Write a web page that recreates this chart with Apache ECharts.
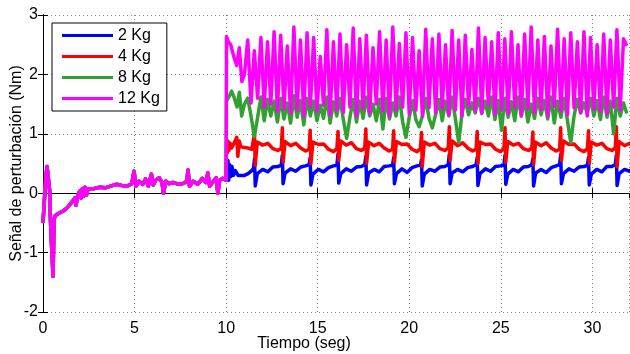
<!DOCTYPE html>
<html><head><meta charset="utf-8">
<script src="https://cdn.jsdelivr.net/npm/echarts@6/dist/echarts.min.js"></script>
<style>html,body{margin:0;padding:0;background:#fff}#c{width:630px;height:354px}</style>
</head><body><div id="c"></div>
<script>
const seriesNames = ['2 Kg', '4 Kg', '8 Kg', '12 Kg'];
const seriesColors = ['#0000ff', '#ff0000', '#33a033', '#ff00ff'];
const xLabelName = 'Tiempo (seg)';
const yLabelName = 'Señal de perturbación (Nm)';

// common part before t = 10 s
const preT = [0, 0.08, 0.15, 0.22, 0.3, 0.36, 0.42, 0.48, 0.55, 0.6, 0.66, 0.75, 0.9, 1.1, 1.3, 1.5, 1.65, 1.74, 1.8, 1.9, 2.0, 2.08, 2.15, 2.22, 2.3, 2.38, 2.45, 2.55, 2.8, 3.1, 3.4, 3.7, 4.0, 4.3, 4.6, 4.85, 4.97, 5.08, 5.25, 5.45, 5.6, 5.75, 5.92, 6.02, 6.15, 6.35, 6.5, 6.58, 6.7, 6.9, 7.1, 7.3, 7.5, 7.7, 7.85, 7.92, 8.0, 8.2, 8.45, 8.7, 8.9, 9.0, 9.1, 9.3, 9.45, 9.55, 9.65, 9.8, 10.0];
const preV = [-0.5, -0.1, 0.25, 0.45, 0.42, 0.05, -0.55, -0.95, -1.4, -0.45, -0.38, -0.36, -0.33, -0.3, -0.25, -0.18, -0.12, -0.08, -0.2, -0.04, 0.03, -0.08, 0.08, -0.05, 0.1, -0.03, 0.07, 0.05, 0.08, 0.1, 0.09, 0.12, 0.15, 0.13, 0.12, 0.16, 0.37, 0.12, 0.2, 0.15, 0.24, 0.12, 0.32, 0.14, 0.22, 0.26, 0.18, 0.0, 0.2, 0.16, 0.18, 0.16, 0.15, 0.17, 0.2, 0.39, 0.12, 0.2, 0.15, 0.25, 0.18, 0.34, 0.12, 0.2, 0.26, 0.0, 0.22, 0.25, 0.22];

// start of each response after t = 10 s
const blueStartT = [10.02, 10.06, 10.1, 10.14, 10.2, 10.26, 10.32, 10.4, 10.5, 10.65, 10.8, 11.0, 11.2, 11.4, 11.5];
const blueStartV = [0.52, 0.25, 0.55, 0.22, 0.48, 0.28, 0.45, 0.30, 0.38, 0.30, 0.30, 0.30, 0.33, 0.38, 0.42];
const redStartT = [10.02, 10.06, 10.1, 10.15, 10.22, 10.3, 10.4, 10.5, 10.58, 10.64, 10.72, 10.8, 11.0, 11.2, 11.4, 11.5];
const redStartV = [0.85, 0.68, 0.88, 0.72, 0.84, 0.76, 0.82, 0.80, 0.94, 0.62, 0.88, 0.78, 0.77, 0.76, 0.74, 0.75];
const greenStartT = [10.02, 10.15, 10.3, 10.45, 10.6, 10.72, 10.85];
const greenStartV = [1.55, 1.62, 1.72, 1.60, 1.45, 1.70, 1.30];
const magStartT = [10.02, 10.12, 10.25, 10.42, 10.58, 10.72, 10.86];
const magStartV = [2.64, 2.55, 2.50, 2.30, 2.15, 2.45, 1.88];

// periodic disturbance of the 2 Kg and 4 Kg responses
const spikeT = [11.55, 13.07, 14.59, 16.11, 17.63, 19.15, 20.67, 22.19, 23.71, 25.23, 26.75, 28.27, 29.79, 31.31];
const cycOff = [0, 0.04, 0.15, 0.45, 0.73, 1.0, 1.27, 1.46];
const blueCyc = [
  [0.58, 0.12, 0.33, 0.40, 0.36, 0.44, 0.45, 0.47],
  [0.64, 0.16, 0.34, 0.41, 0.37, 0.44, 0.46, 0.48],
  [0.60, 0.14, 0.32, 0.40, 0.36, 0.43, 0.46, 0.47],
  [0.66, 0.17, 0.33, 0.41, 0.37, 0.44, 0.45, 0.48],
  [0.62, 0.14, 0.34, 0.40, 0.36, 0.45, 0.46, 0.47],
  [0.60, 0.16, 0.33, 0.41, 0.35, 0.43, 0.46, 0.47],
  [0.56, 0.12, 0.32, 0.40, 0.37, 0.44, 0.45, 0.48],
  [0.66, 0.16, 0.34, 0.40, 0.36, 0.43, 0.45, 0.48],
  [0.60, 0.13, 0.33, 0.41, 0.37, 0.45, 0.46, 0.47],
  [0.64, 0.15, 0.32, 0.40, 0.36, 0.44, 0.45, 0.48],
  [0.58, 0.12, 0.34, 0.40, 0.35, 0.43, 0.46, 0.48],
  [0.65, 0.16, 0.33, 0.41, 0.37, 0.44, 0.45, 0.47],
  [0.60, 0.14, 0.32, 0.40, 0.36, 0.45, 0.45, 0.48],
  [0.64, 0.13, 0.33, 0.40, 0.37, 0.43, 0.46, 0.47]
];
const redCyc = [
  [1.00, 0.47, 0.86, 0.81, 0.84, 0.75, 0.72, 0.75],
  [1.10, 0.52, 0.87, 0.80, 0.84, 0.76, 0.71, 0.74],
  [1.06, 0.50, 0.86, 0.82, 0.83, 0.74, 0.70, 0.75],
  [1.04, 0.55, 0.88, 0.81, 0.85, 0.75, 0.72, 0.76],
  [1.08, 0.50, 0.86, 0.80, 0.84, 0.76, 0.71, 0.74],
  [1.05, 0.52, 0.87, 0.82, 0.83, 0.74, 0.70, 0.75],
  [1.02, 0.45, 0.86, 0.81, 0.84, 0.75, 0.72, 0.76],
  [1.12, 0.55, 0.88, 0.80, 0.85, 0.76, 0.71, 0.74],
  [1.04, 0.50, 0.86, 0.82, 0.83, 0.74, 0.70, 0.75],
  [1.10, 0.52, 0.87, 0.81, 0.84, 0.75, 0.72, 0.76],
  [1.03, 0.48, 0.86, 0.80, 0.85, 0.76, 0.71, 0.74],
  [1.10, 0.55, 0.88, 0.82, 0.83, 0.74, 0.70, 0.75],
  [1.05, 0.50, 0.86, 0.81, 0.84, 0.75, 0.72, 0.76],
  [1.12, 0.45, 0.87, 0.80, 0.84, 0.76, 0.72, 0.75]
];

// 8 Kg and 12 Kg responses, sampled every 0.18 s from t = 11 s
const sampleT0 = 11.0;
const sampleDt = 0.18;
const greenV = [1.50, 1.60, 1.30, 0.95, 1.28, 1.62, 1.22, 1.58, 1.30, 1.55,
  1.20, 1.60, 1.25, 1.52, 1.18, 1.64, 1.28, 1.56, 1.15, 1.60,
  1.30, 1.55, 1.22, 1.48, 1.26, 1.62, 1.18, 1.54, 1.30, 1.60,
  1.24, 0.92, 1.28, 1.58, 1.20, 1.55, 1.26, 1.62, 1.30, 1.50,
  1.22, 1.58, 1.08, 1.60, 1.25, 1.52, 1.30, 1.62, 1.20, 0.94,
  1.28, 1.56, 1.24, 1.12, 1.30, 1.60, 1.26, 1.10, 1.32, 1.58,
  1.22, 1.55, 1.30, 1.62, 1.25, 0.85, 1.34, 1.58, 1.32, 1.52,
  1.35, 1.60, 1.34, 1.55, 1.30, 1.62, 1.24, 1.56, 1.06, 1.60,
  1.28, 1.54, 1.22, 1.62, 1.30, 1.58, 1.20, 1.50, 1.26, 1.60,
  1.32, 1.56, 1.25, 1.62, 1.18, 1.55, 1.28, 1.60, 1.22, 0.85,
  1.30, 1.58, 1.35, 1.52, 1.34, 1.60, 1.30, 1.56, 1.24, 1.62,
  1.28, 1.55, 1.00, 1.60, 1.30, 1.52, 1.34];
const magV = [2.00, 2.58, 1.52, 2.40, 1.60, 2.62, 1.45, 2.55, 1.50, 2.72,
  1.38, 2.66, 1.42, 2.48, 1.35, 2.80, 1.40, 2.58, 1.30, 2.70,
  1.45, 2.62, 1.38, 2.30, 1.48, 2.75, 1.32, 2.55, 1.40, 2.68,
  1.36, 2.50, 1.45, 2.78, 1.30, 2.60, 1.42, 2.66, 1.35, 2.45,
  1.50, 2.72, 1.38, 2.58, 1.30, 2.80, 1.40, 2.52, 1.45, 2.70,
  1.33, 2.62, 1.40, 2.40, 1.30, 2.76, 1.44, 2.60, 1.36, 2.68,
  1.42, 2.50, 1.32, 2.74, 1.40, 2.58, 1.30, 2.66, 1.45, 2.42,
  1.38, 2.78, 1.35, 2.62, 1.48, 2.55, 1.32, 2.70, 1.40, 2.60,
  1.34, 2.72, 1.44, 2.50, 1.30, 2.68, 1.42, 2.80, 1.36, 2.58,
  1.40, 2.64, 1.30, 2.48, 1.46, 2.76, 1.38, 2.60, 1.32, 2.70,
  1.44, 2.55, 1.36, 2.72, 1.30, 2.62, 1.42, 2.50, 1.38, 2.68,
  1.34, 2.58, 1.45, 2.75, 1.40, 2.60, 2.48];

function pairs(ts, vs) { return ts.map((t, i) => [t, vs[i]]); }
function cyclic(cyc) {
  const out = [];
  spikeT.forEach((s, c) => cycOff.forEach((o, j) => out.push([+(s + o).toFixed(3), cyc[c][j]])));
  return out;
}
function sampled(vs) { return vs.map((v, k) => [+(sampleT0 + k * sampleDt).toFixed(3), v]); }

const pre = pairs(preT, preV);
const dataSets = [
  pre.concat(pairs(blueStartT, blueStartV), cyclic(blueCyc)),
  pre.concat(pairs(redStartT, redStartV), cyclic(redCyc)),
  pre.concat(pairs(greenStartT, greenStartV), sampled(greenV)),
  pre.concat(pairs(magStartT, magStartV), sampled(magV))
];

const font = 'Arial, "Liberation Sans", sans-serif';
const chart = echarts.init(document.getElementById('c'), null, {renderer: 'canvas'});
const dotted = {show: true, lineStyle: {color: '#888', width: 1, type: [1, 3]}};
const axLine = {show: true, lineStyle: {color: '#000', width: 1}};
const axTick = {show: true, inside: true, length: 5, lineStyle: {color: '#000'}};
chart.setOption({
  animation: false,
  backgroundColor: '#fff',
  grid: {left: 43, right: 1, top: 15, bottom: 42, containLabel: false, outerBoundsMode: 'none'},
  legend: {
    data: seriesNames, orient: 'vertical', left: 52, top: 23,
    padding: [4, 7, 4, 10], itemGap: 4, itemWidth: 51, itemHeight: 3, icon: 'rect',
    borderColor: '#000', borderWidth: 1, backgroundColor: '#fff',
    textStyle: {fontFamily: font, fontSize: 16, color: '#000', lineHeight: 17}
  },
  xAxis: [
    {type: 'value', min: 0, max: 32, interval: 5, position: 'bottom',
     name: xLabelName, nameLocation: 'middle', nameGap: 24, nameMoveOverlap: false,
     nameTextStyle: {fontFamily: font, fontSize: 16, color: '#000', padding: [0, 64, 0, 0]},
     axisLine: axLine, axisTick: axTick, splitLine: dotted,
     axisLabel: {fontFamily: font, fontSize: 16, color: '#000', margin: 9, showMaxLabel: false}},
    {type: 'value', min: 0, max: 32, interval: 5, position: 'top',
     axisLine: axLine, axisTick: axTick, splitLine: {show: false}, axisLabel: {show: false}}
  ],
  yAxis: [
    {type: 'value', min: -2, max: 3, interval: 1, position: 'left',
     name: yLabelName, nameLocation: 'middle', nameGap: 18, nameMoveOverlap: false,
     nameTextStyle: {fontFamily: font, fontSize: 16, color: '#000'},
     axisLine: axLine, axisTick: axTick, splitLine: dotted,
     axisLabel: {fontFamily: font, fontSize: 16, color: '#000', margin: 5}},
    {type: 'value', min: -2, max: 3, interval: 1, position: 'right',
     axisLine: axLine, axisTick: axTick, splitLine: {show: false}, axisLabel: {show: false}}
  ],
  series: seriesNames.map((n, i) => ({
    name: n, type: 'line', data: dataSets[i], xAxisIndex: 0, yAxisIndex: 0,
    showSymbol: false, symbol: 'none', smooth: false,
    lineStyle: {color: seriesColors[i], width: 3.5, join: 'round'},
    itemStyle: {color: seriesColors[i]}, z: 2 + i
  }))
});
</script></body></html>
